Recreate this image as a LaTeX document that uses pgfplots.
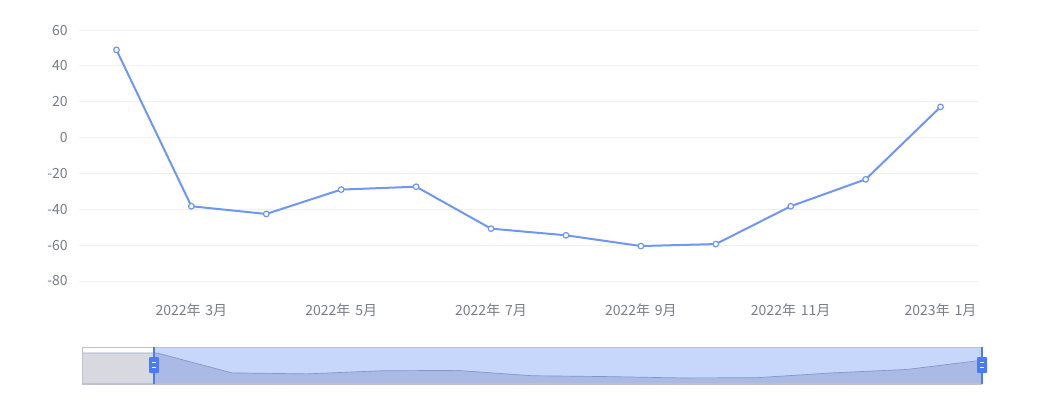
\documentclass[border=0pt]{standalone}
\usepackage{fontspec}
\setmainfont{Noto Sans CJK SC}
\usepackage{pgfplots}
\pgfplotsset{compat=1.18}

\definecolor{lineblue}{RGB}{112,150,245}
\definecolor{gridgray}{RGB}{238,240,244}
\definecolor{labelgray}{RGB}{122,125,136}
\definecolor{shadowgray}{RGB}{216,217,224}
\definecolor{shadowline}{RGB}{160,166,190}
\definecolor{fillerblue}{RGB}{53,106,240}
\definecolor{sliderborder}{RGB}{190,192,205}
\definecolor{handleblue}{RGB}{74,123,240}

% monthly values, Feb 2022 .. Jan 2023
\pgfplotstableread{
x  y
1  48.9
2  -38.3
3  -42.6
4  -29.0
5  -27.4
6  -50.8
7  -54.5
8  -60.5
9  -59.4
10 -38.3
11 -23.3
12 17.1
}\mydata

\newcommand{\ym}[2]{#1年\hspace{0.35em}#2月}

\begin{document}
\begin{tikzpicture}
\path[use as bounding box] (0,0) rectangle (789pt,303.75pt);

% main chart
\begin{axis}[
    at={(59.25pt,93pt)}, anchor=south west,
    scale only axis,
    width=674.25pt, height=188.25pt,
    xmin=0.5, xmax=12.5,
    ymin=-80, ymax=60,
    xtick={2,4,6,8,10,12},
    xticklabels={\ym{2022}{3},\ym{2022}{5},\ym{2022}{7},\ym{2022}{9},\ym{2022}{11},\ym{2023}{1}},
    ytick={-80,-60,-40,-20,0,20,40,60},
    yticklabels={-80,-60,-40,-20,0,20,40,60},
    ymajorgrids,
    grid style={gridgray, line width=0.75pt},
    axis line style={draw=none},
    major tick length=0pt,
    tick label style={font=\fontsize{10.5pt}{12pt}\selectfont, text=labelgray},
    xticklabel style={anchor=base, yshift=-25.8pt},
    yticklabel style={anchor=east, inner sep=0pt, xshift=-8.25pt},
    clip=false,
]
\addplot[lineblue, line width=1.5pt, mark=*, mark size=2.1pt,
    mark options={fill=white, draw=lineblue, line width=0.9pt}] table {\mydata};
\end{axis}

% data zoom slider
\begin{axis}[
    at={(61.5pt,15.75pt)}, anchor=south west,
    scale only axis,
    width=675pt, height=27.75pt,
    xmin=0, xmax=12, ymin=-87, ymax=75,
    hide axis,
]
\addplot[draw=none, fill=shadowgray] coordinates {
    (0,-87) (0,48.9) (1,48.9) (2,-38.3) (3,-42.6) (4,-29.0) (5,-27.4) (6,-50.8)
    (7,-54.5) (8,-60.5) (9,-59.4) (10,-38.3) (11,-23.3) (12,17.1) (12,-87)};
\addplot[shadowline, line width=0.5pt] coordinates {
    (0,48.9) (1,48.9) (2,-38.3) (3,-42.6) (4,-29.0) (5,-27.4) (6,-50.8)
    (7,-54.5) (8,-60.5) (9,-59.4) (10,-38.3) (11,-23.3) (12,17.1)};
\fill[fillerblue, opacity=0.28] (axis cs:0.96,-87) rectangle (axis cs:12,75);
\draw[sliderborder, line width=0.9pt] (rel axis cs:0,0) rectangle (rel axis cs:1,1);
\end{axis}

% slider handles
\draw[handleblue, line width=1.3pt] (115.5pt,15.75pt) -- (115.5pt,43.5pt);
\draw[handleblue, line width=1.3pt] (736.5pt,15.75pt) -- (736.5pt,43.5pt);
\fill[handleblue, rounded corners=0.8pt] (111.8pt,24pt) rectangle (119.3pt,36pt);
\fill[handleblue, rounded corners=0.8pt] (732.8pt,24pt) rectangle (740.3pt,36pt);
\draw[white, line width=0.5pt] (114pt,31.7pt) -- (117pt,31.7pt) (114pt,28.3pt) -- (117pt,28.3pt);
\draw[white, line width=0.5pt] (735pt,31.7pt) -- (738pt,31.7pt) (735pt,28.3pt) -- (738pt,28.3pt);
\end{tikzpicture}
\end{document}
